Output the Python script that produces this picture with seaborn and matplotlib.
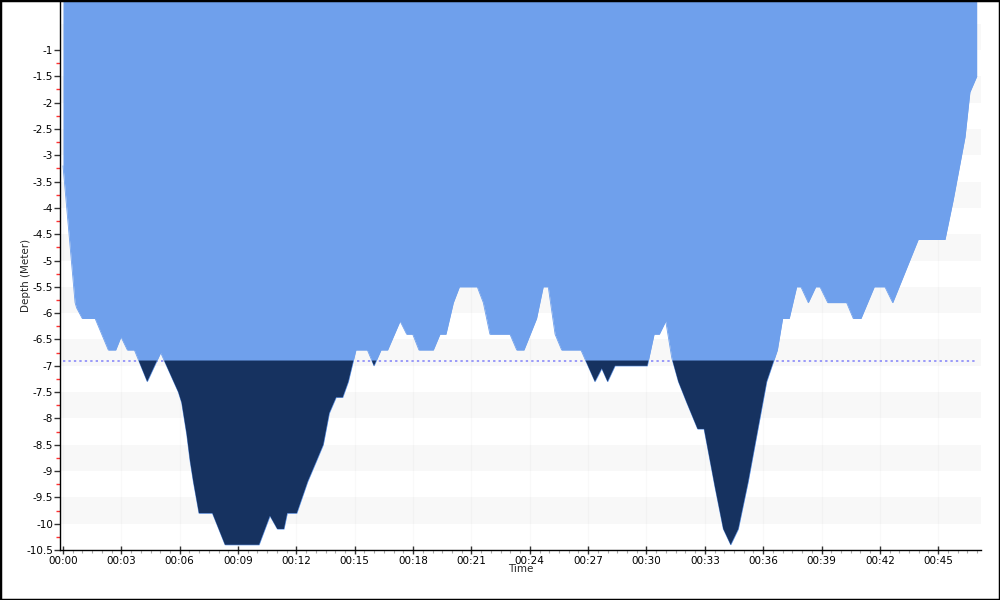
import numpy as np
import matplotlib
matplotlib.use("Agg")
import matplotlib.pyplot as plt
from matplotlib.patches import Rectangle
import seaborn as sns
import pandas as pd

# ---- data (minutes, depth in meters) ----
time_min = [0.00, 0.62, 0.70, 0.99, 1.65, 2.33, 2.71, 2.98, 3.31, 3.67,
            4.33, 5.02, 5.93, 6.10, 6.36, 6.53, 6.70, 6.99, 7.68, 8.33,
            10.08, 10.64, 11.02, 11.36, 11.53, 12.02, 12.58, 13.04, 13.38, 13.69,
            14.04, 14.38, 14.67, 15.06, 15.65, 15.99, 16.35, 16.69, 17.33, 17.67,
            17.98, 18.30, 19.04, 19.38, 19.69, 20.07, 20.38, 21.30, 21.61, 21.95,
            22.98, 23.33, 23.70, 24.35, 24.69, 24.95, 25.30, 25.64, 26.63, 27.35,
            27.70, 28.00, 28.38, 30.04, 30.39, 30.66, 30.99, 31.30, 31.64, 32.07,
            32.63, 32.96, 33.52, 33.95, 34.33, 34.72, 35.23, 36.18, 36.73, 37.00,
            37.34, 37.72, 37.94, 38.32, 38.70, 38.92, 39.32, 40.29, 40.63, 41.03,
            41.71, 42.26, 42.66, 43.97, 45.35, 45.77, 46.38, 46.63, 46.98]
depth_m = [-3.2, -5.8, -5.9, -6.1, -6.1, -6.7, -6.7, -6.45, -6.7, -6.7,
           -7.3, -6.75, -7.5, -7.7, -8.3, -8.8, -9.2, -9.8, -9.8, -10.4,
           -10.4, -9.85, -10.1, -10.1, -9.8, -9.8, -9.2, -8.8, -8.5, -7.9,
           -7.6, -7.6, -7.3, -6.7, -6.7, -7.0, -6.7, -6.7, -6.15, -6.4,
           -6.4, -6.7, -6.7, -6.4, -6.4, -5.8, -5.5, -5.5, -5.8, -6.4,
           -6.4, -6.7, -6.7, -6.1, -5.5, -5.5, -6.4, -6.7, -6.7, -7.3,
           -7.05, -7.3, -7.0, -7.0, -6.4, -6.4, -6.15, -6.85, -7.3, -7.7,
           -8.2, -8.2, -9.3, -10.1, -10.4, -10.1, -9.2, -7.3, -6.7, -6.1,
           -6.1, -5.5, -5.5, -5.8, -5.5, -5.5, -5.8, -5.8, -6.1, -6.1,
           -5.5, -5.5, -5.8, -4.6, -4.6, -3.85, -2.65, -1.8, -1.5]
threshold_depth = -6.9

xtick_values = [0, 3, 6, 9, 12, 15, 18, 21, 24, 27, 30, 33, 36, 39, 42, 45]
xtick_labels = ["00:00", "00:03", "00:06", "00:09", "00:12", "00:15", "00:18", "00:21",
                "00:24", "00:27", "00:30", "00:33", "00:36", "00:39", "00:42", "00:45"]
ytick_values = [-1, -1.5, -2, -2.5, -3, -3.5, -4, -4.5, -5, -5.5, -6, -6.5, -7,
                -7.5, -8, -8.5, -9, -9.5, -10, -10.5]
ytick_labels = ["-1", "-1.5", "-2", "-2.5", "-3", "-3.5", "-4", "-4.5", "-5", "-5.5",
                "-6", "-6.5", "-7", "-7.5", "-8", "-8.5", "-9", "-9.5", "-10", "-10.5"]

df = pd.DataFrame({"Time": time_min, "Depth": depth_m})

sns.set_theme(style="white")
plt.rcParams["font.family"] = ["DejaVu Sans"]

fig = plt.figure(figsize=(10, 6), dpi=100)
ax = fig.add_axes([0.06, 50 / 600, 0.921, 1 - 50 / 600])

LIGHT = "#6fa0ec"
NAVY = "#163260"
YTOP = -0.05

# alternating horizontal bands
for k in range(0, 10):
    ax.axhspan(-(k + 1.0), -(k + 0.5), color="#f8f8f8", lw=0, zorder=0)
# faint vertical grid
for xv in xtick_values:
    ax.axvline(xv, color="#000000", alpha=0.025, lw=1, zorder=0.5)

t = df["Time"].to_numpy()
d = df["Depth"].to_numpy()

# dotted threshold line (under fills)
ax.hlines(threshold_depth, t[0], t[-1], colors="#9a9af8", linestyles=(0, (1.2, 1.6)),
          lw=1.4, zorder=1)

ax.fill_between(t, YTOP, d, color=LIGHT, lw=0, zorder=2)
ax.fill_between(t, d, threshold_depth, where=d < threshold_depth, interpolate=True,
                color=NAVY, lw=0, zorder=3)
sns.lineplot(data=df, x="Time", y="Depth", ax=ax, color=LIGHT, lw=0.6, zorder=2.5,
             estimator=None, sort=False)

ax.set_xlim(-0.154, 47.2)
ax.set_ylim(-10.5, YTOP)

ax.set_xticks(xtick_values)
ax.set_xticklabels(xtick_labels)
ax.set_xticks(np.arange(0, 47.01, 0.5), minor=True)
ax.set_yticks(ytick_values)
ax.set_yticklabels(ytick_labels)
ax.set_yticks(np.arange(-10.25, -1.0, 0.5), minor=True)

ax.tick_params(axis="x", which="major", direction="inout", length=6, width=1,
               colors="#333333", labelcolor="black", labelsize=7.5, pad=1)
ax.tick_params(axis="x", which="minor", direction="out", length=2, width=0.8,
               colors="#aaaaaa")
ax.tick_params(axis="y", which="major", direction="out", length=4, width=1,
               colors="#333333", labelcolor="black", labelsize=7.5, pad=1)
ax.tick_params(axis="y", which="minor", direction="out", length=3, width=1,
               colors="#ff3030")
ax.xaxis.set_ticks_position("bottom")
ax.yaxis.set_ticks_position("left")

for s in ["top", "right"]:
    ax.spines[s].set_visible(False)
for s in ["left", "bottom"]:
    ax.spines[s].set_color("black")
    ax.spines[s].set_linewidth(1)

ax.set_xlabel("Time", fontsize=7.5, labelpad=-1)
ax.set_ylabel("Depth (Meter)", fontsize=7.5)
ax.yaxis.set_label_coords(-0.031, 0.5)

fig.patches.append(Rectangle((0, 0), 1, 1, transform=fig.transFigure, fill=False,
                             edgecolor="black", lw=2.5, zorder=10))

fig.savefig("out.png", dpi=100)
